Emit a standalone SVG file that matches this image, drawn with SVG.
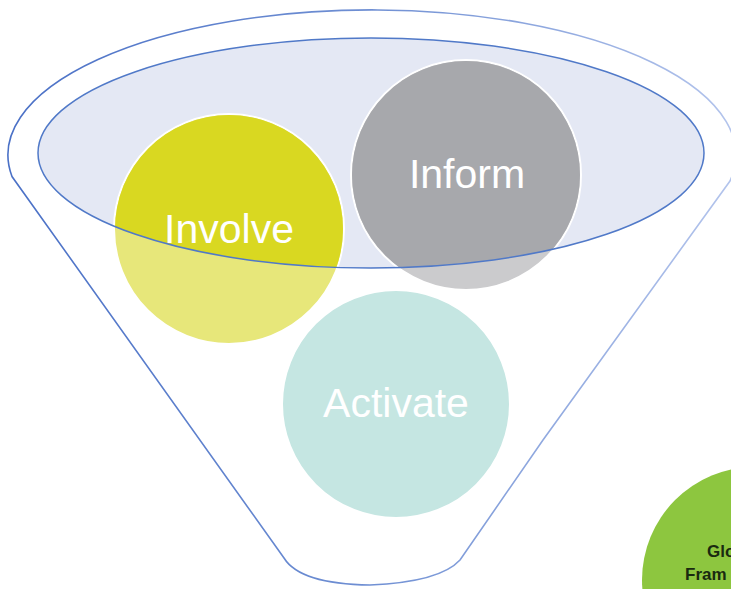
<svg xmlns="http://www.w3.org/2000/svg" width="731" height="589" viewBox="0 0 731 589">
<style>
.lbl{font-family:"Liberation Sans",Arial,sans-serif;font-size:41px;fill:#ffffff;text-anchor:middle}
.gl{font-family:"Liberation Sans",Arial,sans-serif;font-size:17px;font-weight:bold;fill:#1a2a10}
.ring{stroke:#ffffff;stroke-width:2}
</style>
<defs>
<linearGradient id="fs" gradientUnits="userSpaceOnUse" x1="0" y1="0" x2="731" y2="0">
<stop offset="0" stop-color="#4a70c6"/>
<stop offset="0.5" stop-color="#6f8fd3"/>
<stop offset="1" stop-color="#b3c4ec"/>
</linearGradient>
<clipPath id="inner"><ellipse cx="371" cy="153" rx="333" ry="115"/></clipPath>
</defs>
<rect width="731" height="589" fill="#ffffff"/>
<g id="funnel">
<path d="M 12 176.5 A 364 145 0 1 1 730 181 L 543 440 L 460 560 Q 440 582 370 585 Q 300 584 284 558 Z" fill="#ffffff" stroke="url(#fs)" stroke-width="1.6"/>
<ellipse cx="371" cy="153" rx="333" ry="115" fill="#e4e8f4"/>
</g>
<g id="involve">
<circle class="ring" cx="229" cy="229" r="115" fill="#e7e77a"/>
<circle cx="229" cy="229" r="114" fill="#d9d821" clip-path="url(#inner)"/>
<text class="lbl" x="229" y="243">Involve</text>
</g>
<g id="inform">
<circle class="ring" cx="466" cy="175" r="115" fill="#cbcbcd"/>
<circle cx="466" cy="175" r="114" fill="#a7a8ac" clip-path="url(#inner)"/>
<text class="lbl" x="467" y="188">Inform</text>
</g>
<g id="activate">
<circle class="ring" cx="396" cy="404" r="114" fill="#c5e6e2"/>
<text class="lbl" x="396" y="417">Activate</text>
</g>
<g id="rim">
<ellipse cx="371" cy="153" rx="333" ry="115" fill="none" stroke="#5079c8" stroke-width="1.5"/>
</g>
<g id="global">
<circle cx="755" cy="580" r="113" fill="#8dc63f"/>
<text class="gl" x="707" y="557">Glo</text>
<text class="gl" x="685" y="580">Fram</text>
</g>
<g id="connectors"></g>
</svg>
